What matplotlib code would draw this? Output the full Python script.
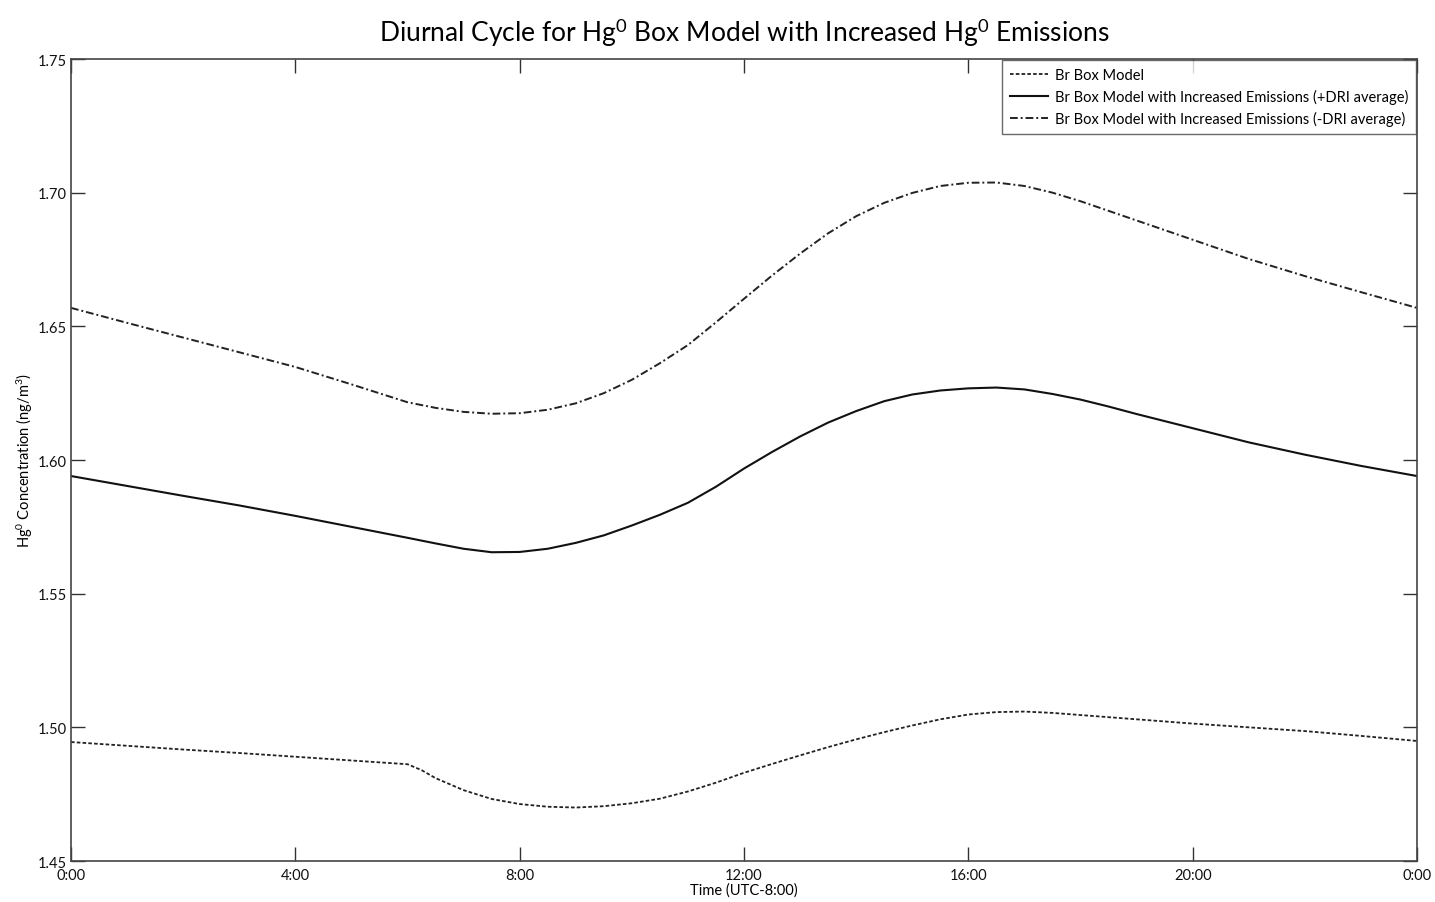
import matplotlib
matplotlib.use("Agg")
import matplotlib.pyplot as plt

plt.rcParams['font.family'] = ['Lato', 'DejaVu Sans']
plt.rcParams['mathtext.fontset'] = 'custom'
plt.rcParams['mathtext.rm'] = 'Lato'
plt.rcParams['mathtext.it'] = 'Lato:italic'
plt.rcParams['mathtext.bf'] = 'Lato:bold'

# ---- data (hours, UTC-8) ----
hours_minus = [0, 1, 2, 3, 4, 5, 6, 6.5, 7, 7.5, 8, 8.5, 9, 9.5, 10, 10.5, 11, 11.5, 12, 12.5, 13, 13.5,
               14, 14.5, 15, 15.5, 16, 16.5, 17, 17.5, 18, 18.5, 19, 20, 21, 22, 23, 24]
minus_dri = [1.6569, 1.6513, 1.6458, 1.6403, 1.6348, 1.6283, 1.6216, 1.6195, 1.6180, 1.6173, 1.6175,
             1.6188, 1.6212, 1.6250, 1.6300, 1.6362, 1.6430, 1.6515, 1.6603, 1.6690, 1.6772, 1.6848,
             1.6912, 1.6962, 1.6999, 1.7025, 1.7037, 1.7038, 1.7025, 1.7000, 1.6968, 1.6932, 1.6896,
             1.6824, 1.6752, 1.6688, 1.6628, 1.6569]

hours_plus = [0, 1, 2, 3, 4, 5, 6, 6.5, 7, 7.5, 8, 8.5, 9, 9.5, 10, 10.5, 11, 11.5, 12, 12.5, 13, 13.5,
              14, 14.5, 15, 15.5, 16, 16.5, 17, 17.5, 18, 18.5, 19, 20, 21, 22, 23, 24]
plus_dri = [1.5940, 1.5903, 1.5866, 1.5830, 1.5791, 1.5750, 1.5709, 1.5688, 1.5668, 1.5655, 1.5656,
            1.5668, 1.5690, 1.5718, 1.5755, 1.5795, 1.5840, 1.5900, 1.5968, 1.6030, 1.6088, 1.6140,
            1.6183, 1.6220, 1.6245, 1.6260, 1.6268, 1.6271, 1.6264, 1.6247, 1.6226, 1.6200, 1.6172,
            1.6119, 1.6066, 1.6020, 1.5978, 1.5940]

hours_base = [0, 1, 2, 3, 4, 5, 6, 6.25, 6.5, 7, 7.5, 8, 8.5, 9, 9.5, 10, 10.5, 11, 11.5, 12, 12.5, 13,
              13.5, 14, 14.5, 15, 15.5, 16, 16.5, 17, 17.5, 18, 19, 20, 21, 22, 23, 24]
base = [1.4945, 1.4931, 1.4917, 1.4904, 1.4890, 1.4876, 1.4862, 1.4840, 1.4810, 1.4765, 1.4732, 1.4713,
        1.4703, 1.4700, 1.4705, 1.4716, 1.4733, 1.4760, 1.4793, 1.4830, 1.4863, 1.4895, 1.4926, 1.4955,
        1.4982, 1.5007, 1.5030, 1.5048, 1.5057, 1.5059, 1.5054, 1.5046, 1.5030, 1.5014, 1.5000, 1.4986,
        1.4968, 1.4949]

x_ticks = [0, 4, 8, 12, 16, 20, 24]
x_labels = ['0:00', '4:00', '8:00', '12:00', '16:00', '20:00', '0:00']
y_ticks = [1.45, 1.50, 1.55, 1.60, 1.65, 1.70, 1.75]

labels = ['Br Box Model',
          'Br Box Model with Increased Emissions (+DRI average)',
          'Br Box Model with Increased Emissions (-DRI average)']

fig = plt.figure(figsize=(14.35, 9.03), dpi=100)
ax = fig.add_axes([71/1435, 1-862/903, (1417-71)/1435, (862-60)/903])

ax.plot(hours_base, base, color='#222222', lw=1.3, linestyle=(0, (2.0, 1.2)), label=labels[0])
ax.plot(hours_plus, plus_dri, color='#111111', lw=1.5, linestyle='-', label=labels[1])
ax.plot(hours_minus, minus_dri, color='#222222', lw=1.4, linestyle=(0, (4, 1.5, 1, 1.5)), label=labels[2])

ax.set_xlim(0, 24)
ax.set_ylim(1.45, 1.75)
ax.set_xticks(x_ticks)
ax.set_xticklabels(x_labels)
ax.set_yticks(y_ticks)
ax.set_yticklabels([f'{v:.2f}' for v in y_ticks])
ax.tick_params(direction='in', length=10, width=1.0, top=True, right=True,
               labelsize=10.5, colors='#333333', labelcolor='#111111')
ax.tick_params(axis='x', pad=5)
ax.tick_params(axis='y', pad=3)
for s in ax.spines.values():
    s.set_color('#444444')
    s.set_linewidth(1.2)

ax.set_xlabel('Time (UTC-8:00)', fontsize=10.5, labelpad=0)
ax.set_ylabel('Hg$^{0}$ Concentration (ng/m$^{3}$)', fontsize=10.5, labelpad=2)
ax.set_title('Diurnal Cycle for Hg$^{0}$ Box Model with Increased Hg$^{0}$ Emissions',
             fontsize=19, pad=13)

leg = ax.legend(loc='upper right', fontsize=10.5, frameon=True, fancybox=False,
                edgecolor='#444444', handlelength=2.6, borderaxespad=0.1,
                borderpad=0.5, labelspacing=0.5, handletextpad=0.5)
leg.get_frame().set_linewidth(1.0)

fig.savefig('out.png', dpi=100)
